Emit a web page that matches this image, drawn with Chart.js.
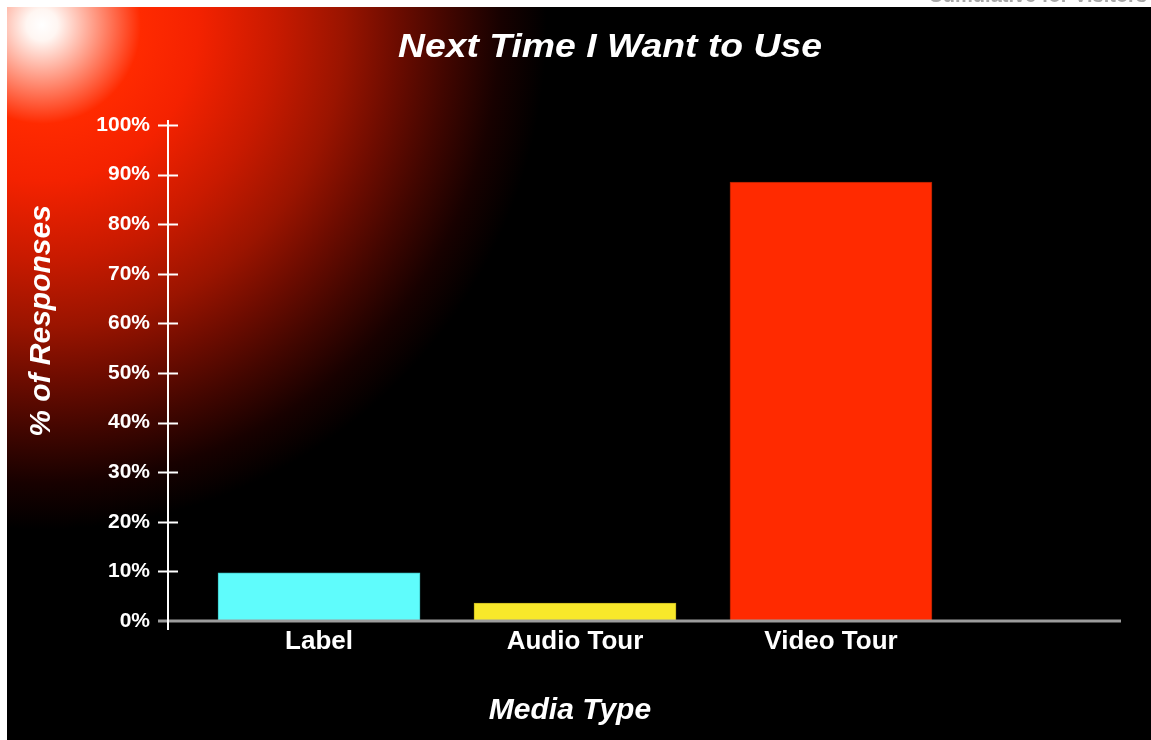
<!DOCTYPE html>
<html>
<head>
<meta charset="utf-8">
<script src="https://cdn.jsdelivr.net/npm/chart.js@4/dist/chart.umd.min.js"></script>
<style>
    html, body { margin: 0; padding: 0; background: #fff; }
    #wrap { width: 1151px; height: 740px; }
</style>
</head>
<body>
<div id="wrap"><canvas id="chart" width="1151" height="740"></canvas></div>
<script>
// Chart data
const categories = ['Label', 'Audio Tour', 'Video Tour'];
const responses = [9.7, 3.6, 88.5];
const barColors = ['#5ffcfc', '#f8e82a', '#ff2a00'];
const barEdges = ['#3fc8c8', '#c8b820', '#a82000'];
const yTicks = [0, 10, 20, 30, 40, 50, 60, 70, 80, 90, 100];

const titleText = 'Next Time I Want to Use';
const yTitleText = '% of Responses';
const xTitleText = 'Media Type';
const cornerText = 'Cumulative for Visitors';

const FONT = '"Liberation Sans", Arial, sans-serif';

// Black panel with the red glow in the top left corner
const backdrop = {
    id: 'backdrop',
    beforeDraw(chart) {
        const ctx = chart.ctx;
        const w = chart.width, h = chart.height;
        ctx.save();
        ctx.fillStyle = '#fff';
        ctx.fillRect(0, 0, w, h);
        ctx.fillStyle = '#000';
        ctx.fillRect(7, 7, w - 7, h - 7);

        const g = ctx.createRadialGradient(42, 25, 0, 42, 25, 520);
        g.addColorStop(0, '#ffffff');
        g.addColorStop(0.03, '#fff6f2');
        g.addColorStop(0.11, '#ff9078');
        g.addColorStop(0.19, '#ff2a00');
        g.addColorStop(0.3, '#f42200');
        g.addColorStop(0.45, '#c81a00');
        g.addColorStop(0.58, '#9a1400');
        g.addColorStop(0.68, '#6e0c00');
        g.addColorStop(0.78, '#420600');
        g.addColorStop(0.88, '#180100');
        g.addColorStop(0.97, '#000000');
        g.addColorStop(1, '#000000');
        ctx.beginPath();
        ctx.rect(7, 7, w - 7, h - 7);
        ctx.clip();
        ctx.fillStyle = g;
        ctx.fillRect(7, 7, w - 7, h - 7);
        ctx.restore();

        // cut off heading in the white strip
        ctx.save();
        ctx.font = 'bold 20px ' + FONT;
        ctx.fillStyle = '#a8a8a8';
        ctx.textAlign = 'right';
        ctx.textBaseline = 'alphabetic';
        ctx.fillText(cornerText, 1147, 2);
        ctx.restore();
    }
};

// Axis lines and crossing tick marks
const axes = {
    id: 'axes',
    afterDatasetsDraw(chart) {
        const ctx = chart.ctx;
        const x = chart.scales.x;
        const y = chart.scales.y;
        const left = chart.chartArea.left;
        const zero = y.getPixelForValue(0);
        ctx.save();
        // x axis
        ctx.strokeStyle = '#9c9c9c';
        ctx.lineWidth = 3;
        ctx.beginPath();
        ctx.moveTo(left - 10, zero);
        ctx.lineTo(x.right, zero);
        ctx.stroke();
        // y axis
        ctx.strokeStyle = '#ffffff';
        ctx.lineWidth = 2;
        ctx.beginPath();
        ctx.moveTo(left, y.getPixelForValue(100) - 5);
        ctx.lineTo(left, zero + 9);
        ctx.stroke();
        yTicks.forEach(v => {
            if (v === 0) return;
            const py = Math.round(y.getPixelForValue(v)) + 0.5;
            ctx.beginPath();
            ctx.moveTo(left - 10, py);
            ctx.lineTo(left + 10, py);
            ctx.stroke();
        });
        ctx.restore();
    }
};

// Titles
const titles = {
    id: 'titles',
    afterDraw(chart) {
        const ctx = chart.ctx;
        ctx.save();
        ctx.fillStyle = '#ffffff';
        ctx.textBaseline = 'alphabetic';
        ctx.textAlign = 'center';

        // main title, stretched to the width of the original lettering
        ctx.font = 'italic bold 33px ' + FONT;
        const tw = ctx.measureText(titleText).width;
        ctx.save();
        ctx.translate(610, 57);
        ctx.scale(424 / tw, 1);
        ctx.fillText(titleText, 0, 0);
        ctx.restore();

        ctx.font = 'italic bold 30px ' + FONT;
        ctx.fillText(xTitleText, 570, 719);

        ctx.save();
        ctx.translate(50, 321);
        ctx.rotate(-Math.PI / 2);
        ctx.font = 'italic bold 30px ' + FONT;
        ctx.fillText(yTitleText, 0, 0);
        ctx.restore();

        ctx.restore();
    }
};

new Chart(
    document.querySelector('#chart'),
    {
        type: 'bar',
        data: {
            datasets: [
                {
                    label: 'Next Time I Want to Use',
                    data: responses.map((v, i) => ({ x: i, y: v })),
                    backgroundColor: barColors,
                    borderColor: barEdges,
                    borderWidth: 1,
                    barThickness: 202
                }
            ]
        },
        options: {
            responsive: false,
            animation: false,
            layout: { padding: { top: 125, right: 30, left: 0, bottom: 0 } },
            plugins: {
                legend: { display: false },
                tooltip: { enabled: false }
            },
            scales: {
                x: {
                    type: 'linear',
                    min: -0.59,
                    max: 3.133,
                    offset: false,
                    grid: { display: false, drawTicks: false, offset: false },
                    border: { display: false },
                    afterBuildTicks: (scale) => {
                        scale.ticks = categories.map((c, i) => ({ value: i }));
                    },
                    afterFit: (scale) => { scale.height = 119; },
                    ticks: {
                        autoSkip: false,
                        maxRotation: 0,
                        padding: 5,
                        color: '#ffffff',
                        font: { family: FONT, size: 26, weight: 'bold' },
                        callback: (v) => categories[v] ?? ''
                    }
                },
                y: {
                    min: 0,
                    max: 100,
                    grid: { display: false, drawTicks: false },
                    border: { display: false },
                    afterBuildTicks: (scale) => {
                        scale.ticks = yTicks.map(v => ({ value: v }));
                    },
                    afterFit: (scale) => { scale.width = 168; },
                    ticks: {
                        padding: 18,
                        color: '#ffffff',
                        font: { family: FONT, size: 21, weight: 'bold' },
                        callback: (v) => v + '%'
                    }
                }
            }
        },
        plugins: [backdrop, axes, titles]
    }
);
</script>
</body>
</html>
